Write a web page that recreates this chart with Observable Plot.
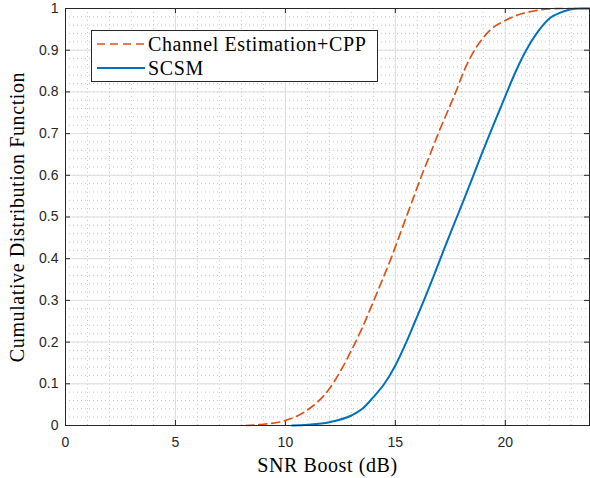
<!DOCTYPE html>
<html>
<head>
<meta charset="utf-8">
<script src="https://cdn.jsdelivr.net/npm/d3@7"></script>
<script src="https://cdn.jsdelivr.net/npm/@observablehq/plot@0.6"></script>
<style>
  html, body { margin: 0; padding: 0; background: #fff; }
  #wrap { position: relative; width: 590px; height: 478px; }
  #legend {
    position: absolute; left: 91px; top: 30px; width: 285px; height: 50px;
    border: 1px solid #262626; background: #fff;
    font-family: "Liberation Serif", "DejaVu Serif", serif; font-size: 20px; color: #000;
    letter-spacing: 0.6px;
  }
  .row { position: absolute; left: 4px; height: 24px; display: flex; align-items: center; white-space: nowrap; }
  .row svg { width: 50px; height: 10px; margin-right: 2px; }
</style>
</head>
<body>
<div id="wrap"></div>
<script>
// ---- data ----
const seriesNames = ["Channel Estimation+CPP", "SCSM"];
const seriesColors = ["#D95319", "#0072BD"];

const cppX = [8.2, 9, 10, 11, 12, 12.5, 13, 13.5, 14, 14.4, 14.8, 15.15, 15.5, 15.85, 16.2, 16.58, 16.95, 17.35, 17.75, 18.12, 18.6, 19.0, 19.35, 19.95, 20.6, 21.3, 22.0, 22.6, 23.83];
const cppY = [0, 0.003, 0.012, 0.037, 0.088, 0.13, 0.18, 0.235, 0.297, 0.348, 0.4, 0.45, 0.5, 0.55, 0.6, 0.65, 0.7, 0.75, 0.8, 0.85, 0.9, 0.93, 0.95, 0.97, 0.985, 0.994, 0.999, 1, 1];

const scsmX = [10.3, 11, 12, 13, 13.5, 14, 14.5, 15, 15.5, 15.9, 16.3, 16.68, 17.05, 17.42, 17.8, 18.18, 18.55, 18.92, 19.3, 19.69, 20.08, 20.5, 20.95, 21.45, 22.05, 22.5, 22.9, 23.4, 23.83];
const scsmY = [0, 0.002, 0.008, 0.024, 0.04, 0.068, 0.1, 0.144, 0.2, 0.25, 0.3, 0.35, 0.4, 0.45, 0.5, 0.55, 0.6, 0.65, 0.7, 0.75, 0.8, 0.852, 0.9, 0.942, 0.978, 0.99, 0.997, 1, 1];

const xTicks = [0, 5, 10, 15, 20];
const xTickLabels = ["0", "5", "10", "15", "20"];
const yTicks = [0, 0.1, 0.2, 0.3, 0.4, 0.5, 0.6, 0.7, 0.8, 0.9, 1];
const yTickLabels = ["0", "0.1", "0.2", "0.3", "0.4", "0.5", "0.6", "0.7", "0.8", "0.9", "1"];
const xMinor = d3.range(0, 24, 1);
const yMinor = d3.range(0, 51).map(i => i / 50);
const xDomain = [0, 23.83];
const xLabel = "SNR Boost (dB)";
const yLabel = "Cumulative Distribution Function";

const cpp = cppX.map((x, i) => ({x, y: cppY[i]}));
const scsm = scsmX.map((x, i) => ({x, y: scsmY[i]}));

// ---- layout ----
const W = 590, H = 478;
const mL = 65, mR = 1, mT = 8, mB = 53;
const innerW = W - mL - mR, innerH = H - mT - mB;
const tickLen = 5;
const ink = "#262626";
const serif = "'Liberation Serif', 'Times New Roman', serif";

const chart = Plot.plot({
  width: W, height: H,
  marginLeft: mL, marginRight: mR, marginTop: mT, marginBottom: mB,
  style: {fontFamily: "'Liberation Sans', Arial, sans-serif", fontSize: "14px", color: ink, background: "#fff"},
  x: {domain: xDomain},
  y: {domain: [0, 1]},
  marks: [
    Plot.gridX(xMinor, {stroke: "#c8c8c8", strokeOpacity: 1, strokeWidth: 1, strokeDasharray: "1,3"}),
    Plot.gridY(yMinor, {stroke: "#c8c8c8", strokeOpacity: 1, strokeWidth: 1, strokeDasharray: "1,3"}),
    Plot.gridX(xTicks, {stroke: "#dedede", strokeOpacity: 1, strokeWidth: 1}),
    Plot.gridY(yTicks, {stroke: "#dedede", strokeOpacity: 1, strokeWidth: 1}),
    Plot.axisX(xTicks, {anchor: "bottom", tickSize: 0, tickPadding: 12, tickFormat: (d, i) => xTickLabels[i], label: null, fill: ink}),
    Plot.axisY(yTicks, {anchor: "left", tickSize: 0, tickPadding: 7, tickFormat: (d, i) => yTickLabels[i], label: null, fill: ink}),
    // inward tick marks on all four sides
    Plot.tickX(xTicks, {x: d => d, insetTop: innerH - tickLen, stroke: ink}),
    Plot.tickX(xTicks, {x: d => d, insetBottom: innerH - tickLen, stroke: ink}),
    Plot.tickY(yTicks, {y: d => d, insetRight: innerW - tickLen, stroke: ink}),
    Plot.tickY(yTicks, {y: d => d, insetLeft: innerW - tickLen, stroke: ink}),
    Plot.line(scsm, {x: "x", y: "y", stroke: seriesColors[1], strokeWidth: 2, curve: "monotone-x"}),
    Plot.line(cpp, {x: "x", y: "y", stroke: seriesColors[0], strokeWidth: 1.7, strokeDasharray: "8,5", curve: "monotone-x"}),
    Plot.frame({stroke: ink, strokeWidth: 1}),
    Plot.text([xLabel], {text: d => d, frameAnchor: "bottom", textAnchor: "middle", lineAnchor: "middle", dy: 40, fontFamily: serif, fontSize: 20, fill: "#000"}),
    Plot.text([yLabel], {text: d => d, frameAnchor: "left", textAnchor: "middle", lineAnchor: "middle", dx: -48, rotate: -90, fontFamily: serif, fontSize: 20, fill: "#000"})
  ]
});

const wrap = document.getElementById("wrap");
wrap.appendChild(chart);
chart.querySelectorAll("text").forEach(t => {
  if (t.textContent === xLabel || t.textContent === yLabel) t.style.letterSpacing = "0.6px";
});

// legend inside the axes (upper left)
const legend = document.createElement("div");
legend.id = "legend";
seriesNames.forEach((name, i) => {
  const row = document.createElement("div");
  row.className = "row";
  row.style.top = (i === 0 ? 1 : 25) + "px";
  const dash = i === 0 ? 'stroke-dasharray="8,5"' : "";
  row.innerHTML = `<svg viewBox="0 0 50 10"><line x1="1" y1="5" x2="49" y2="5" stroke="${seriesColors[i]}" stroke-width="${i === 0 ? 1.7 : 2}" ${dash}/></svg><span>${name}</span>`;
  legend.appendChild(row);
});
wrap.appendChild(legend);
</script>
</body>
</html>
